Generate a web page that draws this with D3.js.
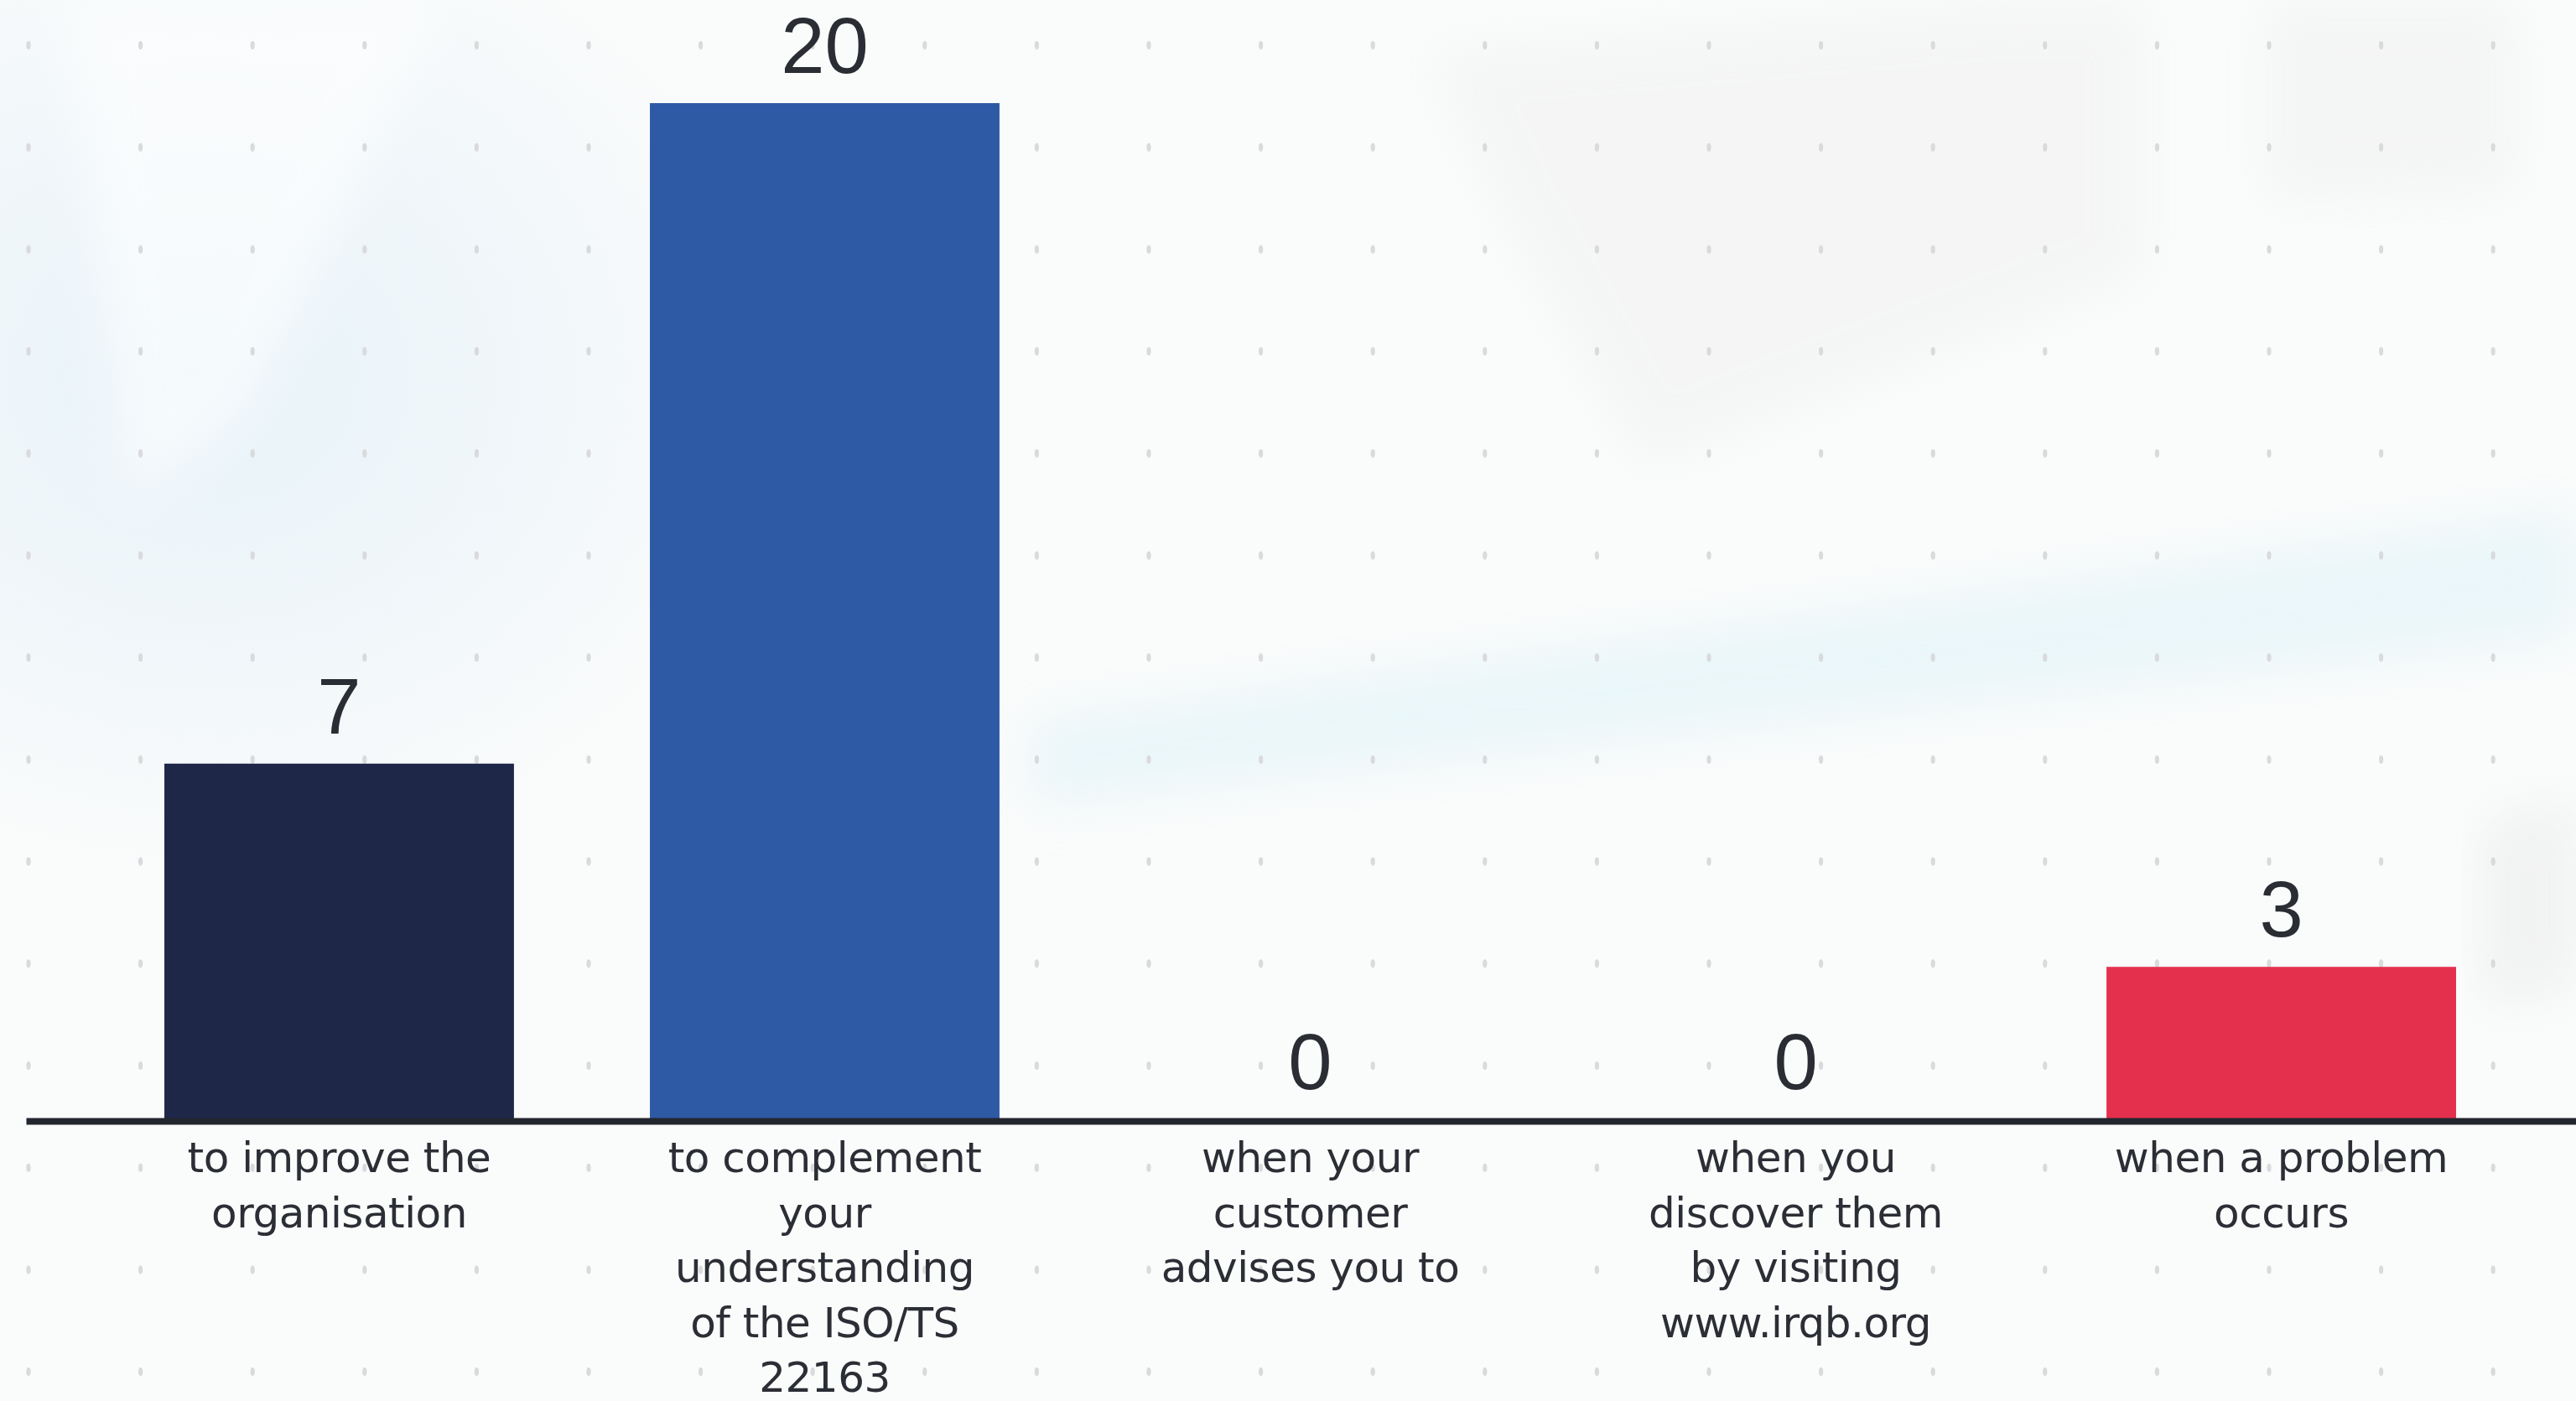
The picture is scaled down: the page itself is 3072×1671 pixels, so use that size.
<!DOCTYPE html>
<html>
<head>
<meta charset="utf-8">
<script src="https://cdn.jsdelivr.net/npm/d3@7"></script>
<style>
  html, body { margin: 0; padding: 0; background: #fafbfc; }
  svg { display: block; }
</style>
</head>
<body>
<div id="chart"></div>
<script>
// ---- data ----
const categories = [
  "to improve the\norganisation",
  "to complement\nyour\nunderstanding\nof the ISO/TS\n22163",
  "when your\ncustomer\nadvises you to",
  "when you\ndiscover them\nby visiting\nwww.irqb.org",
  "when a problem\noccurs"
];
const values = [7, 20, 0, 0, 3];
const barColors = ["#1f2749", "#2e59a5", "#2e59a5", "#2e59a5", "#e4304d"];

// ---- layout ----
const W = 3072, H = 1671;
const svg = d3.select("#chart").append("svg")
  .attr("width", W).attr("height", H);

const defs = svg.append("defs");
const blur = defs.append("filter").attr("id", "blur").attr("x", "-20%").attr("y", "-20%")
  .attr("width", "140%").attr("height", "140%");
blur.append("feGaussianBlur").attr("stdDeviation", 30);
const rg = defs.append("radialGradient").attr("id", "haze");
rg.append("stop").attr("offset", "0%").attr("stop-color", "#e4f1f8").attr("stop-opacity", 0.9);
rg.append("stop").attr("offset", "100%").attr("stop-color", "#e4f1f8").attr("stop-opacity", 0);

// background
svg.append("rect").attr("width", W).attr("height", H).attr("fill", "#fafbfb");
const bg = svg.append("g").attr("class", "bg");
bg.append("ellipse").attr("cx", 250).attr("cy", 450).attr("rx", 700).attr("ry", 600).attr("fill", "url(#haze)");
// faint diagonal light band
bg.append("path").attr("filter", "url(#blur)")
  .attr("d", "M1230,860 L3072,610 L3072,760 L1230,960 Z")
  .attr("fill", "#e3f4f8").attr("opacity", 0.7);
// faint grey building-like shapes
bg.append("path").attr("filter", "url(#blur)")
  .attr("d", "M1700,60 L2380,0 L2560,0 L2560,330 L1960,560 L1790,260 Z")
  .attr("fill", "#efefef").attr("opacity", 0.45);
bg.append("path").attr("filter", "url(#blur)")
  .attr("d", "M2700,0 L3000,0 L3000,230 L2700,240 Z")
  .attr("fill", "#eeeeee").attr("opacity", 0.45);
bg.append("path").attr("filter", "url(#blur)")
  .attr("d", "M2960,980 L3072,950 L3072,1180 L2960,1200 Z")
  .attr("fill", "#e8e8e8").attr("opacity", 0.5);
bg.append("path").attr("filter", "url(#blur)")
  .attr("d", "M80,0 L520,0 L300,500 L150,600 Z")
  .attr("fill", "#ffffff").attr("opacity", 0.6);

// decorative dot grid
const dotCols = d3.range(0, 23), dotRows = d3.range(0, 14);
const dots = bg.append("g").attr("fill", "#d9dadc");
dotRows.forEach(r => dotCols.forEach(c => {
  dots.append("ellipse")
    .attr("cx", 34 + c * 133.6)
    .attr("cy", 54 + r * 121.7)
    .attr("rx", 2.6).attr("ry", 5);
}));

// scales
const x = d3.scaleBand()
  .domain(categories)
  .range([31, 3094])
  .paddingInner(0.28)
  .paddingOuter(0.285);
const y = d3.scaleLinear().domain([0, 20]).range([1335, 123]);

// bars
svg.append("g").selectAll("rect")
  .data(values)
  .join("rect")
  .attr("x", (d, i) => x(categories[i]))
  .attr("width", x.bandwidth())
  .attr("y", d => y(d))
  .attr("height", d => y(0) - y(d))
  .attr("fill", (d, i) => barColors[i]);

// value labels
svg.append("g").selectAll("text")
  .data(values)
  .join("text")
  .attr("x", (d, i) => x(categories[i]) + x.bandwidth() / 2)
  .attr("y", d => y(d) - 36)
  .attr("text-anchor", "middle")
  .attr("font-family", "'Liberation Sans', Arial, sans-serif")
  .attr("font-size", 94)
  .attr("fill", "#2a2d33")
  .text(d => d);

// x axis
const axis = svg.append("g")
  .attr("transform", "translate(0,1337)")
  .call(d3.axisBottom(x).tickSize(0).tickPadding(0).tickFormat(""));
axis.select(".domain").attr("stroke", "#22262e").attr("stroke-width", 8);
axis.selectAll(".tick text").remove();
axis.selectAll(".tick").each(function(d) {
  const t = d3.select(this).append("text")
    .attr("text-anchor", "middle")
    .attr("font-family", "'DejaVu Sans', sans-serif")
    .attr("font-size", 50)
    .attr("letter-spacing", -0.5)
    .attr("fill", "#2b2e35");
  d.split("\n").forEach((line, j) => {
    t.append("tspan").attr("x", 0).attr("y", 61 + j * 65.5).text(line);
  });
});
</script>
</body>
</html>
